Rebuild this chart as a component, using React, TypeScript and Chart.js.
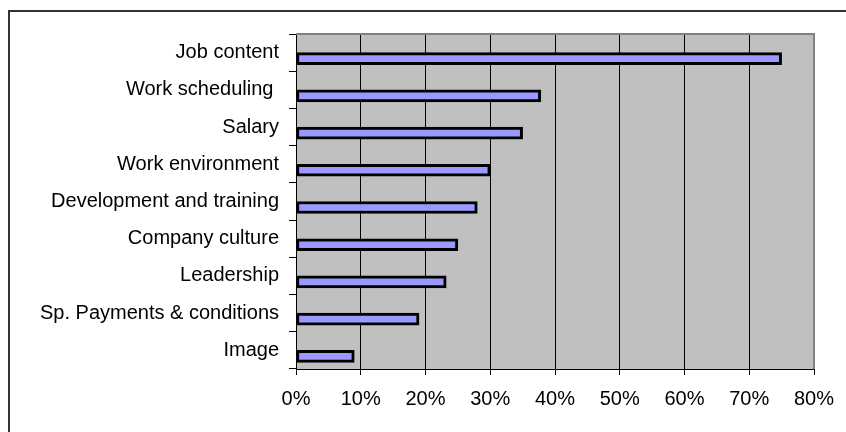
import React, { useEffect, useRef } from "react";
import { Chart, registerables } from "chart.js";

Chart.register(...registerables);

const categories = [
  "Job content",
  "Work scheduling ",
  "Salary",
  "Work environment",
  "Development and training",
  "Company culture",
  "Leadership",
  "Sp. Payments & conditions",
  "Image",
];
const values = [75, 37.8, 35, 30, 28, 25, 23.2, 19, 9];
const blankSeries = [null, null, null, null, null, null, null, null, null];
const xMin = 0;
const xMax = 80;
const xStep = 10;

const plotBg = {
  id: "plotBg",
  beforeDraw(chart: any) {
    const { ctx, chartArea } = chart;
    ctx.save();
    ctx.fillStyle = "#c0c0c0";
    ctx.fillRect(chartArea.left, chartArea.top, chartArea.right - chartArea.left, chartArea.bottom - chartArea.top);
    ctx.restore();
  },
  afterDraw(chart: any) {
    const { ctx, chartArea } = chart;
    ctx.save();
    ctx.strokeStyle = "#808080";
    ctx.lineWidth = 2;
    ctx.beginPath();
    ctx.moveTo(chartArea.left, chartArea.top);
    ctx.lineTo(chartArea.right, chartArea.top);
    ctx.lineTo(chartArea.right, chartArea.bottom);
    ctx.stroke();
    ctx.restore();
  },
};

export default function App() {
  const ref = useRef<HTMLCanvasElement | null>(null);
  useEffect(() => {
    if (!ref.current) return;
    const font = { family: "'Liberation Sans', Arial, sans-serif", size: 20 };
    const chart = new Chart(ref.current, {
      type: "bar",
      data: {
        labels: categories,
        datasets: [
          { data: blankSeries as any, backgroundColor: "#9999ff", barThickness: 12 },
          {
            data: values,
            backgroundColor: "#9999ff",
            borderColor: "#000000",
            borderWidth: 3,
            borderSkipped: false,
            barThickness: 12,
          },
        ],
      },
      options: {
        indexAxis: "y",
        responsive: false,
        animation: false,
        events: [],
        layout: { padding: { left: 0, top: 20, right: 24, bottom: 0 } },
        plugins: { legend: { display: false }, tooltip: { enabled: false } },
        scales: {
          x: {
            min: xMin,
            max: xMax,
            afterFit: (s: any) => {
              s.height = 51;
              s.paddingLeft = 0;
              s.paddingRight = 0;
            },
            ticks: {
              stepSize: xStep,
              color: "#000",
              font,
              padding: 12,
              maxRotation: 0,
              callback: (v: any) => v + "%",
            },
            grid: { color: "#000", lineWidth: 1, tickLength: 6, tickColor: "#000" },
            border: { color: "#000", width: 1 },
          },
          y: {
            afterFit: (s: any) => {
              s.width = 286;
            },
            ticks: { color: "#000", font, padding: 10 },
            grid: { drawOnChartArea: false, tickLength: 7, color: "#000", offset: true },
            border: { color: "#000", width: 1 },
          },
        },
      },
      plugins: [plotBg],
    });
    return () => chart.destroy();
  }, []);
  return (
    <div
      style={{
        position: "fixed",
        left: 8,
        top: 10,
        width: 900,
        height: 500,
        borderTop: "2px solid #333",
        borderLeft: "2px solid #333",
        background: "#fff",
      }}
    >
      <canvas ref={ref} width={828} height={408} style={{ display: "block" }} />
    </div>
  );
}
